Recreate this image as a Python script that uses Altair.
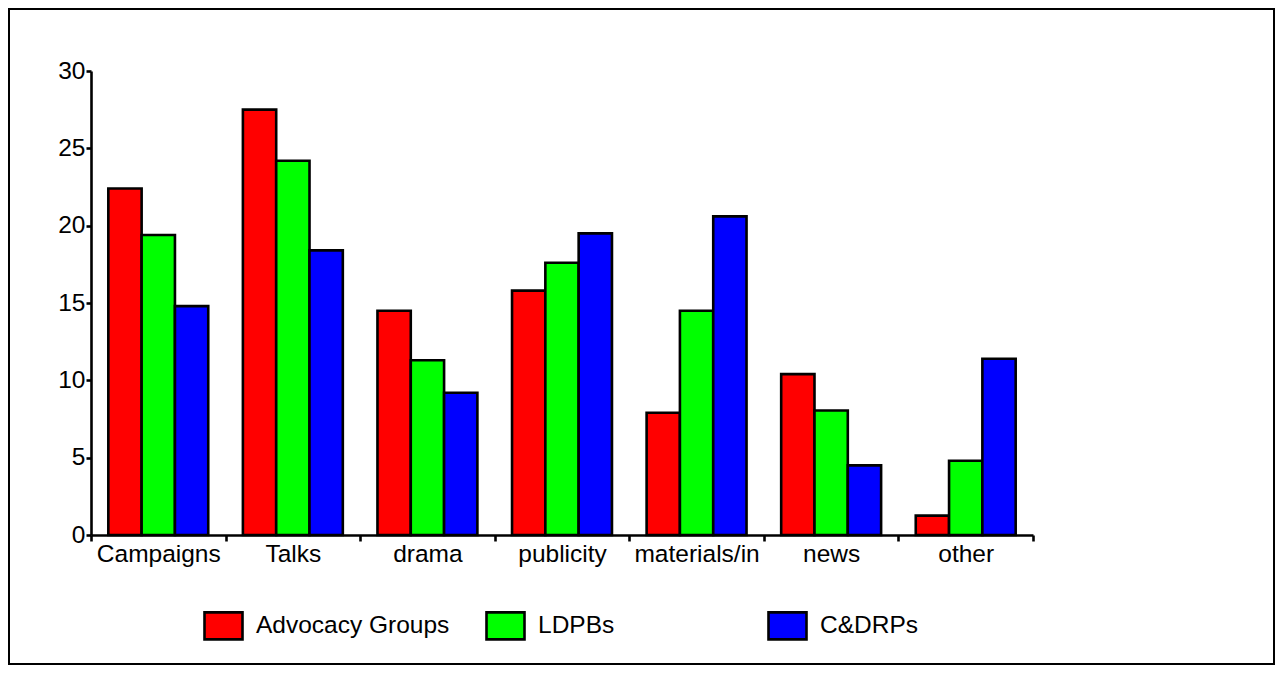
import altair as alt
import pandas as pd

categories = ["Campaigns", "Talks", "drama", "publicity", "materials/in", "news", "other"]
series = ["Advocacy Groups", "LDPBs", "C&DRPs"]
advocacy = [22.4, 27.5, 14.5, 15.8, 7.9, 10.4, 1.25]
ldpbs = [19.4, 24.2, 11.3, 17.6, 14.5, 8.05, 4.8]
cdrps = [14.8, 18.4, 9.2, 19.5, 20.6, 4.5, 11.4]
colors = ["#FF0000", "#00FF00", "#0000FF"]

rows = []
for name, vals in zip(series, [advocacy, ldpbs, cdrps]):
    for c, v in zip(categories, vals):
        rows.append({"category": c, "series": name, "value": v})
df = pd.DataFrame(rows)

W, H = 942, 464
PL, PT, PR, PB = 83, 63, 242, 130

bars = alt.Chart(df).mark_bar(stroke="black", strokeWidth=2.6, opacity=1).encode(
    x=alt.X("category:N", sort=categories,
            scale=alt.Scale(paddingInner=0, paddingOuter=0),
            axis=alt.Axis(title=None, tickBand="extent", labelAngle=0, labelOverlap=False,
                          labelLimit=0, tickSize=6, labelPadding=1, labelFlush=False)),
    xOffset=alt.XOffset("series:N", sort=series,
                        scale=alt.Scale(paddingInner=0, paddingOuter=0.52)),
    y=alt.Y("value:Q", scale=alt.Scale(domain=[0, 30], nice=False),
            axis=alt.Axis(title=None, values=[0, 5, 10, 15, 20, 25, 30], tickSize=5,
                          labelPadding=1, grid=False)),
    color=alt.Color("series:N", sort=series,
                    scale=alt.Scale(domain=series, range=colors),
                    legend=alt.Legend(orient="none", legendX=112, legendY=534,
                                      direction="horizontal", columns=3, gridAlign="all",
                                      columnPadding=31, title=None, padding=0,
                                      symbolType="M-1,-0.71L1,-0.71L1,0.71L-1,0.71Z",
                                      symbolSize=1444, symbolStrokeColor="black",
                                      symbolStrokeWidth=2.6, symbolOpacity=1,
                                      labelFont="Liberation Sans", labelFontSize=24.5,
                                      labelColor="black", labelOffset=12, labelLimit=0)),
)

frame = alt.Chart(alt.Data(values=[{"f": 1}])).mark_rect(
    filled=False, stroke="black", strokeWidth=2
).encode(
    x=alt.value(-PL + 1), x2=alt.value(W + PR - 1),
    y=alt.value(-PT + 1), y2=alt.value(H + PB - 1),
)

chart = alt.layer(bars, frame).properties(
    width=W, height=H,
    autosize=alt.AutoSizeParams(type="none"),
    padding={"left": PL, "top": PT, "right": PR, "bottom": PB},
).configure_axis(
    domainColor="black", domainWidth=2.6, tickColor="black", tickWidth=2.6,
    labelColor="black", labelFont="Liberation Sans", labelFontSize=24.5, grid=False,
).configure_view(stroke=None)

chart.save("out.html", embed_options={"renderer": "svg", "actions": False})
